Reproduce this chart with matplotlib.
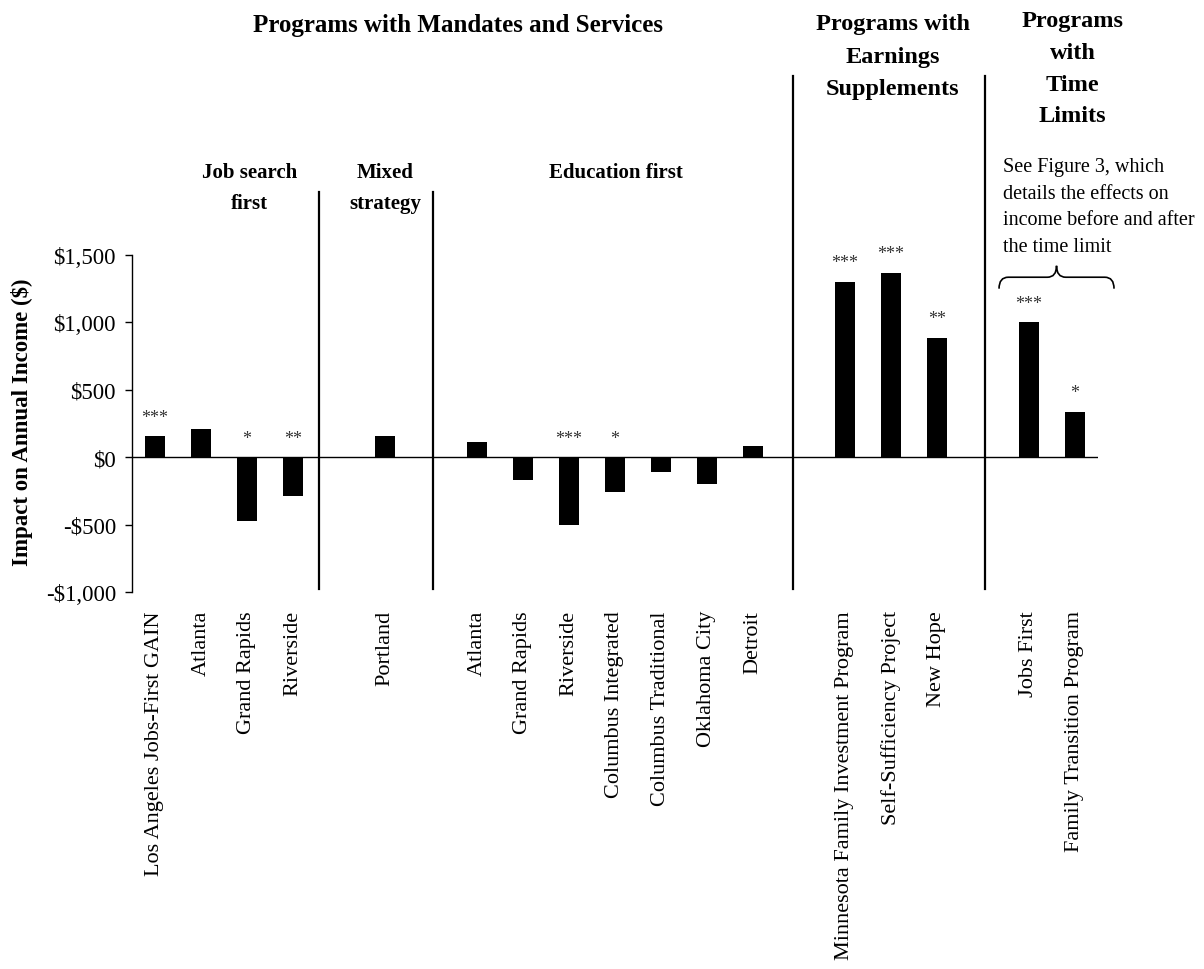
import matplotlib
matplotlib.use('Agg')
import matplotlib.pyplot as plt
from matplotlib.path import Path
from matplotlib.patches import PathPatch

plt.rcParams['font.family'] = ['Liberation Serif', 'DejaVu Serif']

# Dados: impacto na renda anual por programa
programas = ['Los Angeles Jobs-First GAIN', 'Atlanta', 'Grand Rapids', 'Riverside',
             'Portland',
             'Atlanta', 'Grand Rapids', 'Riverside', 'Columbus Integrated',
             'Columbus Traditional', 'Oklahoma City', 'Detroit',
             'Minnesota Family Investment Program', 'Self-Sufficiency Project', 'New Hope',
             'Jobs First', 'Family Transition Program']
impactos = [155, 210, -470, -290,
            155,
            110, -170, -500, -260, -110, -200, 85,
            1300, 1370, 885,
            1000, 335]
estrelas = ['***', '', '*', '**',
            '',
            '', '', '***', '*', '', '', '',
            '***', '***', '**',
            '***', '*']
tamanhos_grupos = [4, 1, 7, 3, 2]
yticks = [-1000, -500, 0, 500, 1000, 1500]
ytick_labels = ['-$1,000', '-$500', '$0', '$500', '$1,000', '$1,500']

# posições das barras com um espaço vazio entre grupos
posicoes = []
inicio = 0
for n in tamanhos_grupos:
    posicoes += list(range(inicio, inicio + n))
    inicio += n + 1

fig = plt.figure(figsize=(12.04, 9.7), dpi=100)
ax = fig.add_axes([0.1096, 0.3887, 0.8023, 0.3474])

ax.bar(posicoes, impactos, width=0.45, color='black')
ax.axhline(0, color='black', lw=1.0)

for x, v, s in zip(posicoes, impactos, estrelas):
    if s:
        ax.annotate(s, (x, max(v, 0)), xytext=(0, 10.5), textcoords='offset points',
                    ha='center', va='baseline', fontsize=13, color='#333333')

ax.set_xlim(-0.5, 20.5)
ax.set_ylim(-1000, 1500)
ax.set_yticks(yticks)
ax.set_yticklabels(ytick_labels, fontsize=16.5)
ax.set_xticks(posicoes)
ax.set_xticklabels(programas, rotation=90, fontsize=16)
ax.tick_params(axis='x', length=0, pad=13)
ax.tick_params(axis='y', length=5, width=1, pad=6.5, direction='out')
for lado in ['top', 'right', 'bottom']:
    ax.spines[lado].set_visible(False)
ax.spines['left'].set_linewidth(1)

fig.text(22 / 1204, 1 - 422 / 970, 'Impact on Annual Income ($)', rotation=90,
         ha='center', va='center', fontsize=16.5, fontweight='bold')

# linhas divisórias entre grupos
divisores = [(3.56, 1967), (6.05, 1967), (13.88, 2826), (18.05, 2826)]
for x, topo in divisores:
    ax.plot([x, x], [-980, topo], color='black', lw=1.6, clip_on=False)


def empilhado(x, y, linhas, passo, tam, peso='bold', ha='center'):
    for i, linha in enumerate(linhas):
        ax.annotate(linha, (x, y), xytext=(0, -i * passo), textcoords='offset points',
                    ha=ha, va='baseline', fontsize=tam, fontweight=peso,
                    annotation_clip=False)


empilhado(6.58, 3159, ['Programs with Mandates and Services'], 0, 18)
empilhado(2.05, 2080, ['Job search', 'first'], 22.3, 15)
empilhado(5.0, 2080, ['Mixed', 'strategy'], 22.3, 15)
empilhado(10.02, 2080, ['Education first'], 22.3, 15)
empilhado(16.04, 3174, ['Programs with', 'Earnings', 'Supplements'], 23.4, 17.5)
empilhado(19.95, 3196, ['Programs', 'with', 'Time', 'Limits'], 22.8, 17.5)
empilhado(18.43, 2122, ['See Figure 3, which', 'details the effects on',
                        'income before and after', 'the time limit'],
          19.1, 14.5, peso='normal', ha='left')

# chave sobre os programas com limite de tempo
x0, x1, xm = 18.35, 20.85, 19.6
yb, yf, yt = 1250, 1335, 1420
r = 0.2
verts = [(x0, yb), (x0, yf), (x0 + r, yf), (xm - r, yf), (xm, yf), (xm, yt),
         (xm, yf), (xm + r, yf), (x1 - r, yf), (x1, yf), (x1, yb)]
codes = [Path.MOVETO, Path.CURVE3, Path.CURVE3, Path.LINETO, Path.CURVE3, Path.CURVE3,
         Path.CURVE3, Path.CURVE3, Path.LINETO, Path.CURVE3, Path.CURVE3]
ax.add_patch(PathPatch(Path(verts, codes), fill=False, lw=1.2, color='black', clip_on=False))

fig.savefig('out.png', dpi=100)
